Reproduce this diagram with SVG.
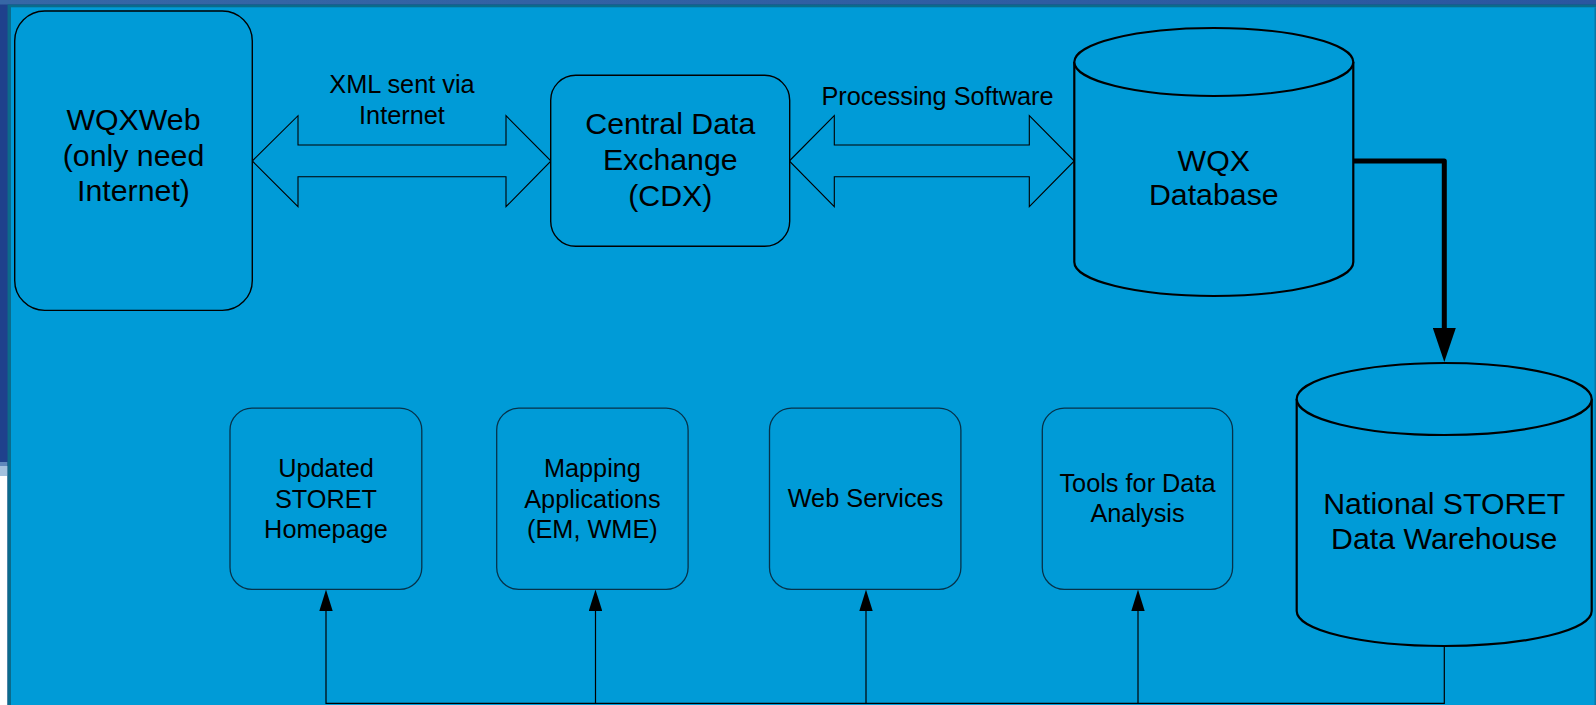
<svg xmlns="http://www.w3.org/2000/svg" width="1596" height="705" viewBox="0 0 1596 705">
<style>
  .box { fill: #009bd7; stroke: #000; stroke-width: 1.4; }
  .sbox { fill: #009bd7; stroke: #06324a; stroke-width: 1.3; }
  .cyl { fill: #009bd7; stroke: #000; stroke-width: 2.2; }
  .blk { fill: #009bd7; stroke: #000; stroke-width: 1.1; stroke-linejoin: miter; }
  .big { font-family: "Liberation Sans", Arial, sans-serif; font-size: 30.3px; fill: #000; text-anchor: middle; }
  .sm { font-family: "Liberation Sans", Arial, sans-serif; font-size: 25.3px; fill: #000; text-anchor: middle; }
  .thin { fill: none; stroke: #000; stroke-width: 1.2; }
  .thick { fill: none; stroke: #000; stroke-width: 5; stroke-linejoin: round; stroke-linecap: round; }
</style>
<defs>
  <linearGradient id="topband" x1="0" y1="0" x2="1" y2="0">
    <stop offset="0" stop-color="#3667a6"/>
    <stop offset="1" stop-color="#2a56a0"/>
  </linearGradient>
  <marker id="bighead" markerUnits="userSpaceOnUse" viewBox="0 0 34 23" refX="0" refY="11.5" markerWidth="34" markerHeight="23" orient="auto">
    <polygon points="0,0 34,11.5 0,23" fill="#000"/>
  </marker>
  <marker id="smhead" markerUnits="userSpaceOnUse" viewBox="0 0 21.5 13.4" refX="0" refY="6.7" markerWidth="21.5" markerHeight="13.4" orient="auto">
    <polygon points="0,0 21.5,6.7 0,13.4" fill="#000"/>
  </marker>
</defs>

<!-- background frame -->
<rect x="0" y="0" width="1596" height="705" fill="#1f418c"/>
<rect x="0" y="0" width="1596" height="4.5" fill="url(#topband)"/>
<rect x="0" y="466" width="7.5" height="239" fill="#ffffff"/>
<rect x="0" y="462" width="7.5" height="14" fill="#7aa6d0" opacity="0.7"/>
<rect x="7.5" y="4.5" width="1588.5" height="700.5" fill="#0b6b8b"/>
<rect x="11" y="7.3" width="1585" height="697.7" fill="#009bd7"/>
<rect x="1594.5" y="7.3" width="1.5" height="697.7" fill="#0a78a8"/>

<g id="connectors">
  <polygon class="blk" points="252.3,161 298,115.7 298,145 506,145 506,115.7 551,161 506,206.7 506,176.7 298,176.7 298,206.7"/>
  <polygon class="blk" points="789.3,161 834.3,115.7 834.3,145 1029.3,145 1029.3,115.7 1074.3,161 1029.3,206.7 1029.3,176.7 834.3,176.7 834.3,206.7"/>
  <path class="thick" d="M1352.3,161 H1444.3 V328" marker-end="url(#bighead)"/>
  <path class="thin" d="M1444.3,645.7 V703.3 H326 V611" marker-end="url(#smhead)"/>
  <path class="thin" d="M595.5,703.3 V611" marker-end="url(#smhead)"/>
  <path class="thin" d="M866,703.3 V611" marker-end="url(#smhead)"/>
  <path class="thin" d="M1138,703.3 V611" marker-end="url(#smhead)"/>
  <text class="sm" x="402" y="92.5">XML sent via</text>
  <text class="sm" x="402" y="123.5">Internet</text>
  <text class="sm" x="937.5" y="105">Processing Software</text>
</g>

<g id="wqxweb">
  <rect class="box" x="14.7" y="11" width="237.6" height="299.4" rx="30"/>
  <text class="big" x="133.5" y="130">WQXWeb</text>
  <text class="big" x="133.5" y="165.5">(only need</text>
  <text class="big" x="133.5" y="201">Internet)</text>
</g>

<g id="cdx">
  <rect class="box" x="550.7" y="75.3" width="239" height="171" rx="25"/>
  <text class="big" x="670.3" y="134">Central Data</text>
  <text class="big" x="670.3" y="170">Exchange</text>
  <text class="big" x="670.3" y="205.5">(CDX)</text>
</g>

<g id="wqxdb">
  <path class="cyl" d="M1074.3,62 V262 A139.5,34 0 0 0 1353.3,262 V62"/>
  <ellipse class="cyl" cx="1213.8" cy="62" rx="139.5" ry="34"/>
  <text class="big" x="1213.8" y="170.5">WQX</text>
  <text class="big" x="1213.8" y="205">Database</text>
</g>

<g id="storet">
  <path class="cyl" d="M1296.7,399 V611 A147.5,35 0 0 0 1591.7,611 V399"/>
  <ellipse class="cyl" cx="1444.2" cy="399" rx="147.5" ry="36"/>
  <text class="big" x="1444.2" y="513.5">National STORET</text>
  <text class="big" x="1444.2" y="549">Data Warehouse</text>
</g>

<g id="homepage">
  <rect class="sbox" x="230" y="408.2" width="191.8" height="181.2" rx="22"/>
  <text class="sm" x="326" y="477">Updated</text>
  <text class="sm" x="326" y="507.5">STORET</text>
  <text class="sm" x="326" y="538">Homepage</text>
</g>

<g id="mapping">
  <rect class="sbox" x="496.7" y="408.2" width="191.4" height="181.2" rx="22"/>
  <text class="sm" x="592.4" y="477">Mapping</text>
  <text class="sm" x="592.4" y="507.5">Applications</text>
  <text class="sm" x="592.4" y="538">(EM, WME)</text>
</g>

<g id="webservices">
  <rect class="sbox" x="769.5" y="408.2" width="191.4" height="181.2" rx="22"/>
  <text class="sm" x="865.5" y="506.5">Web Services</text>
</g>

<g id="tools">
  <rect class="sbox" x="1042.3" y="408.2" width="190.3" height="181.2" rx="22"/>
  <text class="sm" x="1137.5" y="491.5">Tools for Data</text>
  <text class="sm" x="1137.5" y="522">Analysis</text>
</g>
</svg>
